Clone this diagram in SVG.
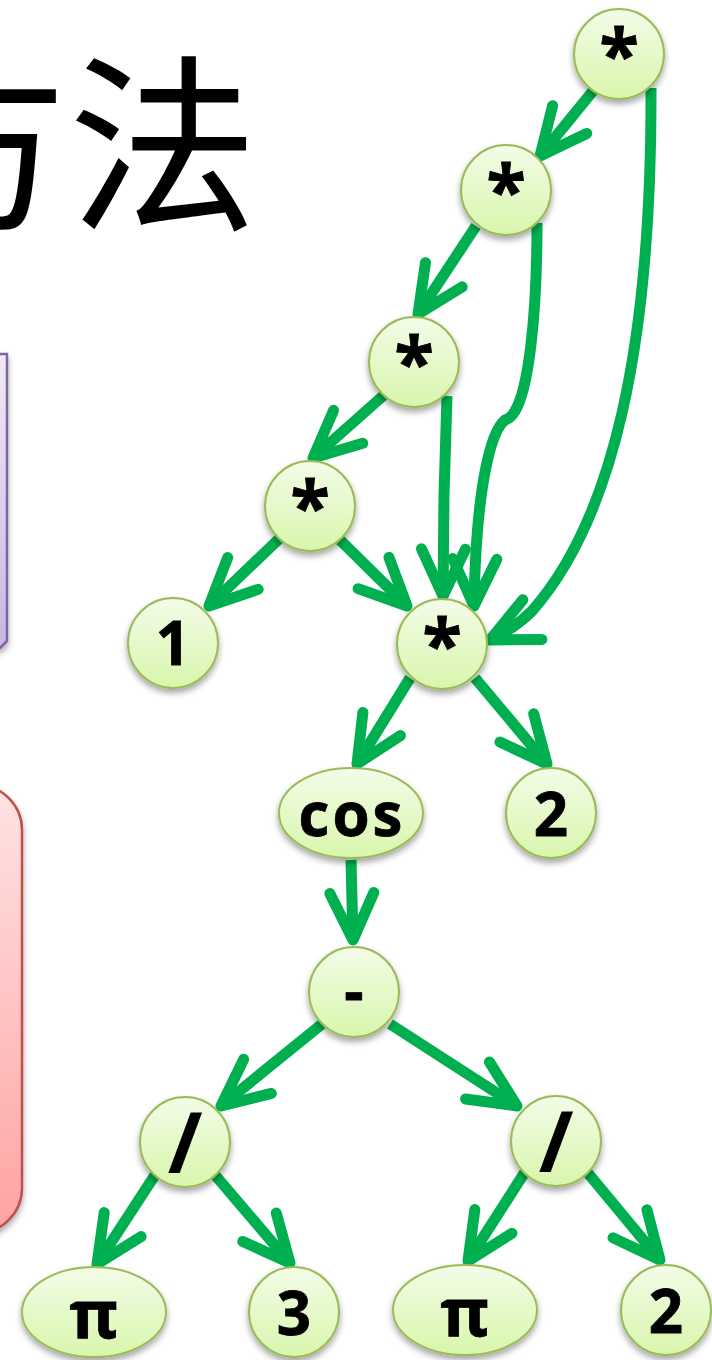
<svg xmlns="http://www.w3.org/2000/svg" width="712" height="1360" viewBox="0 0 712 1360">
<defs>
<linearGradient id="ng" x1="0" y1="0" x2="0" y2="1">
<stop offset="0" stop-color="#f3fce8"/>
<stop offset="1" stop-color="#d8f6ac"/>
</linearGradient>
<linearGradient id="pg" x1="0" y1="0" x2="0" y2="1">
<stop offset="0" stop-color="#efeaf8"/>
<stop offset="1" stop-color="#c6b7e3"/>
</linearGradient>
<linearGradient id="rg" x1="0" y1="0" x2="0" y2="1">
<stop offset="0" stop-color="#ffe3e3"/>
<stop offset="1" stop-color="#ffa3a3"/>
</linearGradient>
<filter id="sh" x="-30%" y="-30%" width="160%" height="170%">
<feDropShadow dx="0" dy="4" stdDeviation="3" flood-color="#000" flood-opacity="0.35"/>
</filter>
<marker id="ah" markerUnits="userSpaceOnUse" markerWidth="120" markerHeight="120" viewBox="-60 -60 120 120" refX="0" refY="0" orient="auto" overflow="visible">
<path d="M-47,-22 L0,0 L-47,22" fill="none" stroke="#00b050" stroke-width="11" stroke-linecap="round" stroke-linejoin="round"/>
</marker>
<style>
.e{fill:none;stroke:#00b050;stroke-width:11;marker-end:url(#ah)}
.n{fill:url(#ng);stroke:#9bbb59;stroke-width:2;filter:url(#sh)}
.t{font-family:"Open Sans","DejaVu Sans",sans-serif;font-weight:bold;font-size:60px;text-anchor:middle;fill:#000;stroke:#000;stroke-width:0.8}
.s{font-size:72px}
.sl{font-size:84px;stroke-width:0}
.p{font-size:66px}
.c{letter-spacing:3px}
</style>
</defs>

<g id="title">
<text x="258" y="216" font-family="'Noto Sans CJK SC','Noto Sans CJK JP',sans-serif" font-size="190" text-anchor="end" fill="#000">方法</text>
</g>

<g id="purple-box" filter="url(#sh)">
<path d="M-100,354 H7 V641 L0,648 H-100 Z" fill="url(#pg)" stroke="#8064a2" stroke-width="2.5"/>
</g>
<g id="red-box" filter="url(#sh)">
<rect x="-80" y="785" width="102" height="448" rx="45" fill="url(#rg)" stroke="#c0504d" stroke-width="2.5"/>
</g>

<g id="connectors">
<path class="e" d="M597,86 L540,156"/>
<path class="e" d="M651,88 C652,350 612,520 532,611 Q515,628 490,640"/>
<path class="e" d="M476,226 L418,314"/>
<path class="e" d="M537,223 C537,320 528,390 515,411 Q511,418 505,420 C490,432 476,490 474,606"/>
<path class="e" d="M384,395 L313,458"/>
<path class="e" d="M447,396 L444,495 L443,596"/>
<path class="e" d="M280,538 L209,606"/>
<path class="e" d="M340,540 L407,606"/>
<path class="e" d="M410,678 L357,764"/>
<path class="e" d="M475,678 L547,764"/>
<path class="e" d="M351,860 L353,940"/>
<path class="e" d="M322,1024 L221,1106"/>
<path class="e" d="M390,1024 L517,1106"/>
<path class="e" d="M155,1175 L97,1264"/>
<path class="e" d="M215,1175 L290,1263"/>
<path class="e" d="M525,1172 L468,1261"/>
<path class="e" d="M587,1172 L660,1260"/>
</g>

<g id="n1"><circle class="n" cx="619" cy="54" r="45"/><text class="t s" x="619" y="81">*</text></g>
<g id="n2"><circle class="n" cx="506" cy="190" r="45"/><text class="t s" x="506" y="217">*</text></g>
<g id="n3"><circle class="n" cx="414" cy="362" r="45"/><text class="t s" x="414" y="389">*</text></g>
<g id="n4"><circle class="n" cx="310" cy="506" r="45"/><text class="t s" x="310" y="533">*</text></g>
<g id="n5"><circle class="n" cx="173" cy="643" r="45"/><text class="t" x="173" y="665">1</text></g>
<g id="n6"><circle class="n" cx="442" cy="644" r="45"/><text class="t s" x="442" y="671">*</text></g>
<g id="n7"><ellipse class="n" cx="351" cy="813" rx="72" ry="45"/><text class="t c" x="352" y="836">cos</text></g>
<g id="n8"><circle class="n" cx="551" cy="813" r="45"/><text class="t" x="551" y="836">2</text></g>
<g id="n9"><circle class="n" cx="354" cy="992" r="45"/><text class="t" x="354" y="1013">-</text></g>
<g id="n10"><circle class="n" cx="185" cy="1142" r="45"/><text class="t sl" x="185" y="1173">/</text></g>
<g id="n11"><circle class="n" cx="556" cy="1141" r="45"/><text class="t sl" x="556" y="1172">/</text></g>
<g id="n12"><ellipse class="n" cx="94" cy="1312" rx="72" ry="45"/><text class="t p" x="94" y="1338">π</text></g>
<g id="n13"><circle class="n" cx="294" cy="1312" r="45"/><text class="t" x="294" y="1335">3</text></g>
<g id="n14"><ellipse class="n" cx="465" cy="1310" rx="72" ry="45"/><text class="t p" x="465" y="1336">π</text></g>
<g id="n15"><circle class="n" cx="666" cy="1310" r="45"/><text class="t" x="666" y="1333">2</text></g>
</svg>
